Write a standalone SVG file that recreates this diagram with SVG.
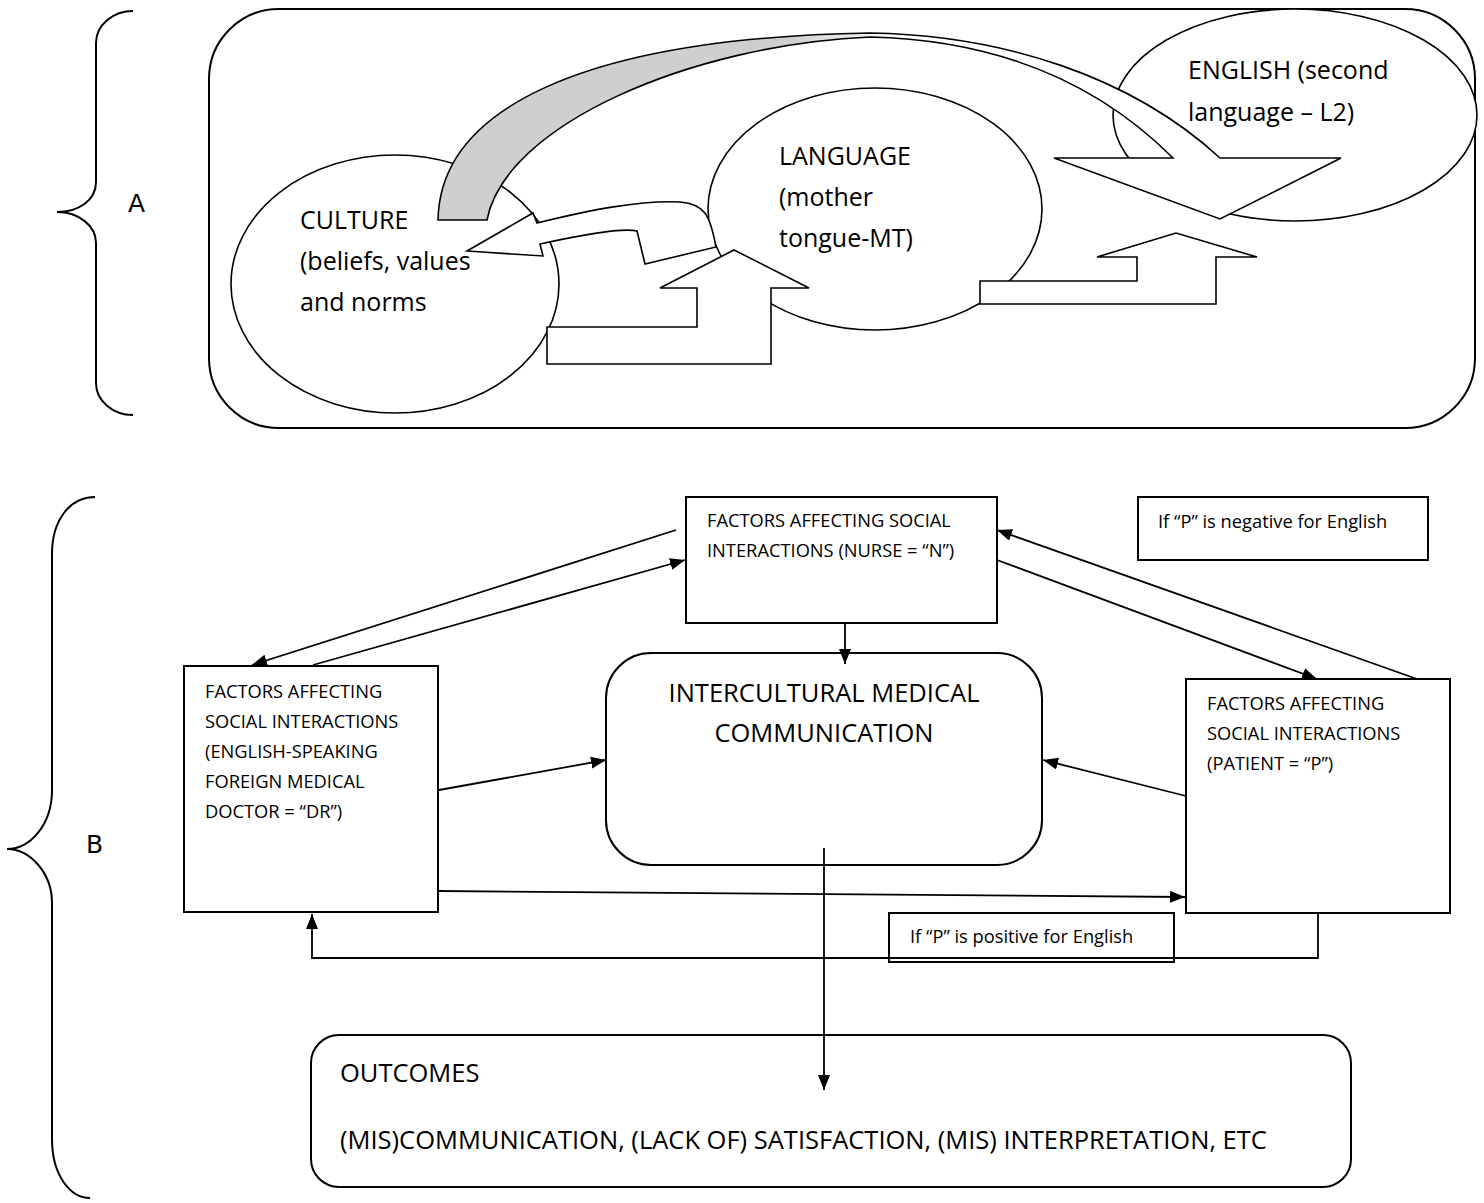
<svg xmlns="http://www.w3.org/2000/svg" width="1484" height="1203" viewBox="0 0 1484 1203">
<style>
.t{font-family:"Open Sans","Liberation Sans",sans-serif;fill:#000}
.ta{font-size:25px}
.tb{font-size:18.3px}
.tc{font-size:25.5px}
.lbl{font-family:"DejaVu Sans","Liberation Sans",sans-serif;font-size:25px;fill:#000}
.sh{fill:#fff;stroke:#000;stroke-width:1.6}
.box{fill:#fff;stroke:#000;stroke-width:2}
.open{fill:none;stroke:#000;stroke-width:2}
.ln{fill:none;stroke:#000;stroke-width:1.8}
.br{fill:none;stroke:#000;stroke-width:2}
</style>
<defs>
<marker id="ah" markerUnits="userSpaceOnUse" markerWidth="16" markerHeight="12" refX="15" refY="6" orient="auto">
<path d="M0,0 L15,6 L0,12 Z" fill="#000"/>
</marker>
<linearGradient id="gr" gradientUnits="userSpaceOnUse" x1="438" y1="0" x2="1341" y2="0">
<stop offset="0" stop-color="#cfcfcf"/>
<stop offset="0.39" stop-color="#cfcfcf"/>
<stop offset="0.51" stop-color="#ffffff"/>
<stop offset="1" stop-color="#ffffff"/>
</linearGradient>
</defs>
<rect width="1484" height="1203" fill="#fff"/>

<g id="brace-A">
<path class="br" d="M133,11 C113,11 96,25 96,43 L96,182 C96,200 79,212 57,212 C79,212 96,226 96,243 L96,383 C96,401 113,415 133,415"/>
<text class="lbl" x="128" y="212">A</text>
</g>
<g id="brace-B">
<path class="br" d="M95,497 C70,497 52,520 52,554 L52,790 C52,825 30,849 7,849 C30,849 52,873 52,903 L52,1139 C52,1175 70,1198 90,1198"/>
<text class="lbl" x="86" y="853">B</text>
</g>

<g id="section-A-frame">
<rect class="box" x="209" y="9" width="1266" height="419" rx="70" ry="70"/>
</g>
<g id="culture">
<ellipse class="sh" cx="395" cy="284" rx="164" ry="129"/>
</g>
<g id="language">
<ellipse class="sh" cx="875" cy="209" rx="167" ry="121"/>
</g>
<g id="english">
<ellipse class="sh" cx="1295" cy="115" rx="182" ry="106"/>
</g>

<g id="block-arrows">
<path class="sh" d="M467,251 L533,213 L537,223 C590,210 640,200 680,202 C705,204 710,215 716,247 L645,264 L637,231 C625,228 590,233 540,244 L543,256 Z"/>
<path class="sh" d="M547,327 L697,327 L697,288 L660,288 L734,250 L809,288 L771,288 L771,364 L547,364 Z"/>
<path class="sh" d="M980,281 L1137,281 L1137,257 L1097,257 L1176,233 L1257,257 L1216,257 L1216,304 L980,304 Z"/>
<path fill="url(#gr)" stroke="#000" stroke-width="1.6" d="M438,220 C440,110 580,38 870,33 C1000,35 1130,75 1220,158 L1341,158 L1220,219 L1054,158 L1173,158 C1100,85 1000,40 870,37 C690,45 505,125 487,220 Z"/>
</g>

<g id="section-A-text">
<text class="t ta" x="300" y="229">CULTURE</text>
<text class="t ta" x="300" y="270">(beliefs, values</text>
<text class="t ta" x="300" y="311">and norms</text>
<text class="t ta" x="779" y="165">LANGUAGE</text>
<text class="t ta" x="779" y="206">(mother</text>
<text class="t ta" x="779" y="247">tongue-MT)</text>
<text class="t ta" x="1188" y="79">ENGLISH (second</text>
<text class="t ta" x="1188" y="121">language – L2)</text>
</g>

<g id="nurse">
<rect class="box" x="686" y="497" width="311" height="126"/>
<text class="t tb" x="707" y="527">FACTORS AFFECTING SOCIAL</text>
<text class="t tb" x="707" y="557">INTERACTIONS (NURSE = “N”)</text>
</g>
<g id="negative-note">
<rect class="box" x="1138" y="497" width="290" height="63"/>
<text class="t tb" x="1158" y="528">If “P” is negative for English</text>
</g>
<g id="icm">
<rect class="open" x="606" y="653" width="436" height="212" rx="45" ry="45"/>
<text class="t tc" x="824" y="702" text-anchor="middle">INTERCULTURAL MEDICAL</text>
<text class="t tc" x="824" y="742" text-anchor="middle">COMMUNICATION</text>
</g>
<g id="doctor">
<rect class="box" x="184" y="666" width="254" height="246"/>
<text class="t tb" x="205" y="698">FACTORS AFFECTING</text>
<text class="t tb" x="205" y="728">SOCIAL INTERACTIONS</text>
<text class="t tb" x="205" y="758">(ENGLISH-SPEAKING</text>
<text class="t tb" x="205" y="788">FOREIGN MEDICAL</text>
<text class="t tb" x="205" y="818">DOCTOR = “DR”)</text>
</g>
<g id="patient">
<rect class="box" x="1186" y="679" width="264" height="234"/>
<text class="t tb" x="1207" y="710">FACTORS AFFECTING</text>
<text class="t tb" x="1207" y="740">SOCIAL INTERACTIONS</text>
<text class="t tb" x="1207" y="770">(PATIENT = “P”)</text>
</g>
<g id="positive-note">
<rect class="open" x="889" y="913" width="285" height="49"/>
<text class="t tb" x="910" y="943">If “P” is positive for English</text>
</g>
<g id="outcomes">
<rect class="open" x="311" y="1035" width="1040" height="152" rx="28" ry="28"/>
<text class="t tc" x="340" y="1082">OUTCOMES</text>
<text class="t tc" x="340" y="1149">(MIS)COMMUNICATION, (LACK OF) SATISFACTION, (MIS) INTERPRETATION, ETC</text>
</g>

<g id="connectors">
<line class="ln" x1="676" y1="530" x2="252" y2="665" marker-end="url(#ah)"/>
<line class="ln" x1="313" y1="665" x2="685" y2="560" marker-end="url(#ah)"/>
<line class="ln" x1="845" y1="623" x2="845" y2="664" marker-end="url(#ah)"/>
<line class="ln" x1="439" y1="790" x2="606" y2="760" marker-end="url(#ah)"/>
<line class="ln" x1="1186" y1="796" x2="1043" y2="760" marker-end="url(#ah)"/>
<line class="ln" x1="997" y1="560" x2="1317" y2="679" marker-end="url(#ah)"/>
<line class="ln" x1="1417" y1="679" x2="997" y2="530" marker-end="url(#ah)"/>
<line class="ln" x1="439" y1="891" x2="1185" y2="897" marker-end="url(#ah)"/>
<polyline class="ln" points="1318,913 1318,958 312,958 312,914" marker-end="url(#ah)"/>
<line class="ln" x1="824" y1="848" x2="824" y2="1090" marker-end="url(#ah)"/>
</g>
</svg>
